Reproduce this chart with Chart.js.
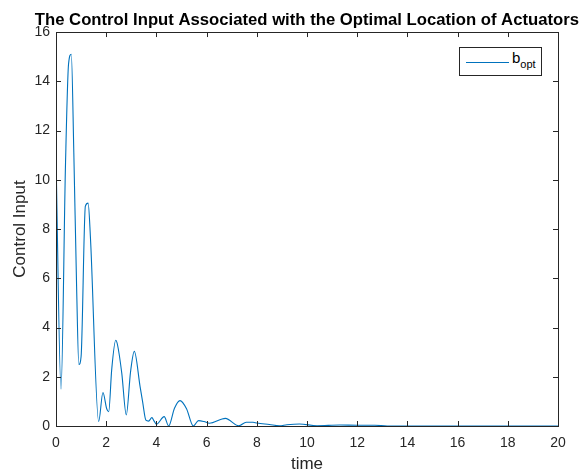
<!DOCTYPE html>
<html>
<head>
<meta charset="utf-8">
<script src="https://cdn.jsdelivr.net/npm/chart.js@4.4.0/dist/chart.umd.min.js"></script>
<style>
  body { margin: 0; background: #fff; }
  #wrap { position: relative; width: 579px; height: 475px; }
  #legenda {
    position: absolute; left: 459px; top: 47px; width: 81px; height: 27px;
    border: 1px solid #262626; background: #fff;
    font: 15px "Liberation Sans", Arial, sans-serif; color: #000;
  }
  #legenda .linha { position: absolute; left: 6px; top: 14px; width: 43px; border-top: 1px solid #0072BD; }
  #legenda .txt { position: absolute; left: 52px; top: 1px; }
  #legenda sub { font-size: 11px; vertical-align: -5px; }
</style>
</head>
<body>
<div id="wrap">
  <canvas id="grafico" width="579" height="475"></canvas>
  <div id="legenda"><div class="linha"></div><div class="txt">b<sub>opt</sub></div></div>
</div>
<script>
// valores
const tempo = [0, 0.2, 0.38, 0.5, 0.61, 0.71, 0.82, 0.91, 1.0, 1.17, 1.28, 1.37, 1.7, 1.87, 2.02, 2.1,
  2.22, 2.38, 2.45, 2.62, 2.8, 2.97, 3.12, 3.35, 3.45, 3.58, 3.69, 3.82, 3.91, 4.0, 4.31, 4.49,
  4.72, 4.94, 5.2, 5.47, 5.68, 5.9, 6.11, 6.75, 7.28, 7.58, 7.85, 8.0, 8.5, 8.9, 9.2, 9.7,
  10.4, 11.3, 12.0, 12.7, 13.2, 16, 20];
const entrada = [10.9, 1.5, 10.7, 14.7, 15.1, 11.1, 5.7, 2.5, 2.82, 8.93, 9.05, 7.7, 0.18, 1.36, 0.7, 0.58,
  2.3, 3.48, 3.3, 2.15, 0.45, 2.2, 3.03, 1.6, 0.99, 0.24, 0.2, 0.34, 0.2, 0.07, 0.38, 0.0,
  0.72, 1.03, 0.7, 0.0, 0.22, 0.18, 0.11, 0.31, 0.01, 0.15, 0.15, 0.12, 0.06, 0.01, 0.05, 0.08,
  0.01, 0.04, 0.03, 0.03, 0, 0, 0];
const ticksX = [0, 2, 4, 6, 8, 10, 12, 14, 16, 18, 20];
const ticksY = [0, 2, 4, 6, 8, 10, 12, 14, 16];

const corEixo = "#262626";
const fonte = "'Liberation Sans', Arial, sans-serif";

// caixa em volta e tracinhos para dentro, estilo matlab
const caixa = {
  id: "caixa",
  afterDraw(chart) {
    const { ctx, chartArea: a, scales } = chart;
    ctx.save();
    ctx.strokeStyle = corEixo;
    ctx.lineWidth = 1;
    ctx.strokeRect(Math.round(a.left) + 0.5, Math.round(a.top) + 0.5,
      Math.round(a.right - a.left), Math.round(a.bottom - a.top));
    ctx.beginPath();
    ticksX.forEach(v => {
      const px = Math.round(scales.x.getPixelForValue(v)) + 0.5;
      ctx.moveTo(px, a.bottom); ctx.lineTo(px, a.bottom - 5);
      ctx.moveTo(px, a.top); ctx.lineTo(px, a.top + 5);
    });
    ticksY.forEach(v => {
      const py = Math.round(scales.y.getPixelForValue(v)) + 0.5;
      ctx.moveTo(a.left, py); ctx.lineTo(a.left + 5, py);
      ctx.moveTo(a.right, py); ctx.lineTo(a.right - 5, py);
    });
    ctx.stroke();
    ctx.restore();
  }
};

new Chart(document.getElementById("grafico"), {
  type: "line",
  data: {
    datasets: [{
      data: tempo.map((t, i) => ({ x: t, y: entrada[i] })),
      borderColor: "#0072BD",
      borderWidth: 1.1,
      pointRadius: 0,
      fill: false,
      cubicInterpolationMode: "monotone"
    }]
  },
  options: {
    responsive: false,
    animation: false,
    layout: { padding: 0 },
    plugins: {
      legend: { display: false },
      tooltip: { enabled: false },
      title: {
        display: true,
        fullSize: true,
        align: "end",
        text: "The Control Input Associated with the Optimal Location of Actuators",
        color: "#000",
        font: { family: fonte, size: 16.7, weight: "bold" },
        padding: { top: 10, bottom: 2 }
      }
    },
    scales: {
      x: {
        type: "linear",
        min: 0, max: 20,
        afterBuildTicks: s => { s.ticks = ticksX.map(v => ({ value: v })); },
        afterFit: s => { s.height = 49; },
        grid: { display: false, drawTicks: false },
        border: { display: false },
        ticks: { color: corEixo, padding: 9, font: { family: fonte, size: 14 } },
        title: { display: true, text: "time", color: corEixo, padding: 0, font: { family: fonte, size: 17 } }
      },
      y: {
        min: 0, max: 16,
        afterBuildTicks: s => { s.ticks = ticksY.map(v => ({ value: v })); },
        afterFit: s => { s.width = 56; },
        grid: { display: false, drawTicks: false },
        border: { display: false },
        ticks: { color: corEixo, padding: 6, font: { family: fonte, size: 14 } },
        title: { display: true, text: "Control Input", color: corEixo, padding: { top: 10, bottom: 0 }, font: { family: fonte, size: 17 } }
      },
      // eixo vazio so para deixar a margem da direita
      margem: {
        position: "right",
        min: 0, max: 1,
        afterFit: s => { s.width = 21; },
        grid: { display: false, drawTicks: false },
        border: { display: false },
        ticks: { display: false }
      }
    }
  },
  plugins: [caixa]
});
</script>
</body>
</html>
